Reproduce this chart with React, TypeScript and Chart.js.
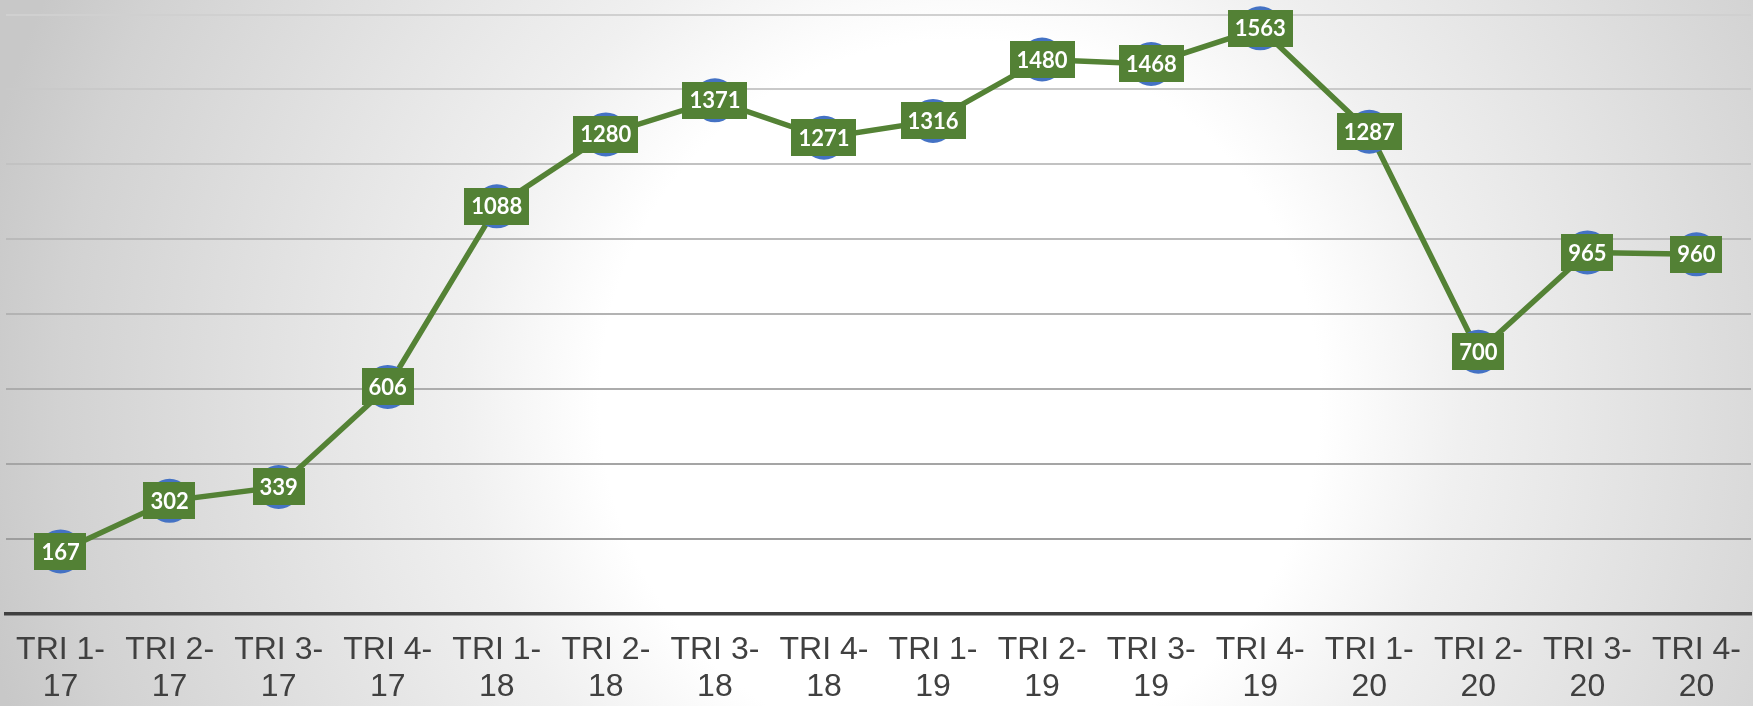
import React, { useEffect, useRef } from "react";
import { Chart, registerables } from "chart.js";

Chart.register(...registerables);

const CATEGORIES: string[][] = [
  ["TRI 1-", "17"], ["TRI 2-", "17"], ["TRI 3-", "17"], ["TRI 4-", "17"],
  ["TRI 1-", "18"], ["TRI 2-", "18"], ["TRI 3-", "18"], ["TRI 4-", "18"],
  ["TRI 1-", "19"], ["TRI 2-", "19"], ["TRI 3-", "19"], ["TRI 4-", "19"],
  ["TRI 1-", "20"], ["TRI 2-", "20"], ["TRI 3-", "20"], ["TRI 4-", "20"],
];
const VALUES: number[] = [167, 302, 339, 606, 1088, 1280, 1371, 1271, 1316, 1480, 1468, 1563, 1287, 700, 965, 960];
const Y_MIN = 0;
const Y_MAX = 1600;
const Y_STEP = 200;

const W = 1753;
const H = 706;

const backgroundPlugin = {
  id: "bgGradient",
  beforeDraw(chart: any) {
    const { ctx, width, height } = chart;
    ctx.save();
    const cx = 960, cy = 400, r = 1000;
    const g = ctx.createRadialGradient(cx, cy, 0, cx, cy, r);
    g.addColorStop(0, "#ffffff");
    g.addColorStop(0.36, "#ffffff");
    g.addColorStop(0.5, "#f0f0f0");
    g.addColorStop(0.7, "#e1e1e1");
    g.addColorStop(0.9, "#d2d2d2");
    g.addColorStop(1, "#c8c8c8");
    ctx.fillStyle = g;
    ctx.fillRect(0, 0, width, height);
    ctx.restore();
  },
};

const dataLabelPlugin = {
  id: "boxLabels",
  afterDatasetsDraw(chart: any) {
    const { ctx } = chart;
    const meta = chart.getDatasetMeta(0);
    const data = chart.data.datasets[0].data as number[];
    ctx.save();
    ctx.font = "bold 22px Lato";
    ctx.textAlign = "center";
    ctx.textBaseline = "middle";
    meta.data.forEach((pt: any, i: number) => {
      const txt = String(data[i]);
      const tw = ctx.measureText(txt).width;
      const bw = tw + 14;
      const bh = 37;
      ctx.fillStyle = "#538135";
      ctx.fillRect(Math.round(pt.x - bw / 2), Math.round(pt.y - bh / 2), Math.round(bw), bh);
      ctx.fillStyle = "#ffffff";
      ctx.fillText(txt, pt.x, pt.y + 1);
    });
    ctx.restore();
  },
};

export default function App() {
  const ref = useRef<HTMLCanvasElement | null>(null);

  useEffect(() => {
    document.body.style.margin = "0";
    const canvas = ref.current;
    if (!canvas) return;
    const chart = new Chart(canvas, {
      type: "line",
      data: {
        labels: CATEGORIES,
        datasets: [
          {
            data: VALUES,
            borderColor: "#548235",
            borderWidth: 5.5,
            pointRadius: 22,
            pointHoverRadius: 22,
            pointBackgroundColor: "#4472C4",
            pointBorderWidth: 0,
            pointBorderColor: "#4472C4",
            tension: 0,
            fill: false,
            clip: false,
          },
        ],
      },
      options: {
        responsive: false,
        animation: false,
        events: [],
        layout: { autoPadding: false, padding: { left: 6, right: 2, top: 14.5, bottom: 0 } },
        plugins: {
          legend: { display: false },
          tooltip: { enabled: false },
          title: { display: false },
        },
        scales: {
          x: {
            type: "category",
            offset: true,
            grid: { display: false, drawTicks: false },
            border: { display: true, color: "#404040", width: 3.5 },
            ticks: {
              color: "#404040",
              font: { family: "'Liberation Sans', Arial, sans-serif", size: 32, lineHeight: 1.15 },
              padding: 18,
              maxRotation: 0,
              minRotation: 0,
              autoSkip: false,
            },
            afterFit: (s: any) => {
              s.height = 92;
              s.paddingLeft = 0;
              s.paddingRight = 0;
            },
          },
          y: {
            min: Y_MIN,
            max: Y_MAX,
            display: true,
            grid: {
              drawTicks: false,
              lineWidth: 2,
              color: (c: any) => {
                const v = c.tick ? c.tick.value : 0;
                if (v === 0) return "rgba(0,0,0,0)";
                const t = v / Y_MAX;
                const lo = 150, hi = 208;
                const k = Math.round(lo + (hi - lo) * t);
                return `rgb(${k},${k},${k})`;
              },
            },
            border: { display: false },
            ticks: { stepSize: Y_STEP, display: false },
            afterFit: (s: any) => {
              s.width = 0;
              s.paddingTop = 0;
              s.paddingBottom = 0;
            },
          },
        },
      },
      plugins: [backgroundPlugin, dataLabelPlugin],
    });
    return () => chart.destroy();
  }, []);

  return (
    <div style={{ width: W, height: H }}>
      <canvas ref={ref} width={W} height={H} style={{ display: "block", width: W, height: H }} />
    </div>
  );
}
